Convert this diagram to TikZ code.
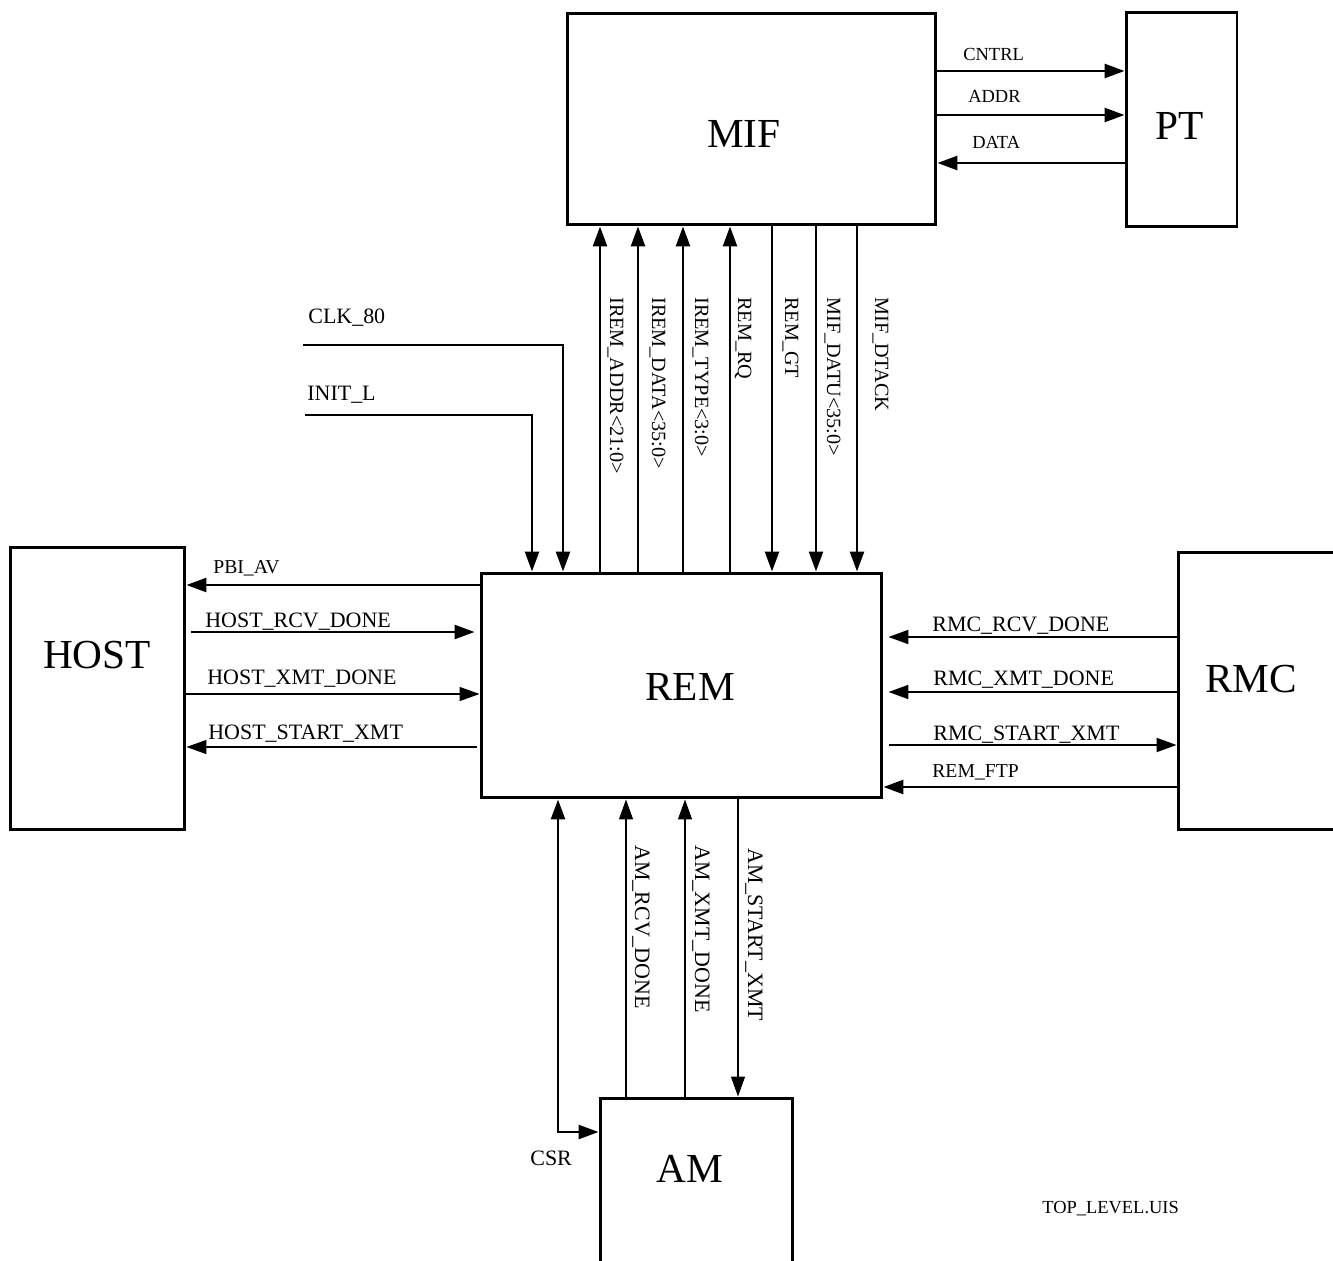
\documentclass[tikz,border=0pt]{standalone}
\usepackage{fontspec}
\setmainfont{Liberation Serif}
\usetikzlibrary{arrows.meta}
\tikzstyle{blk}=[draw, line width=1.7pt, inner sep=0]
\tikzstyle{sig}=[line width=1.5pt]
\tikzstyle{mid}=[line width=1.1pt]
\tikzstyle{thn}=[line width=0.8pt]
\tikzstyle{lab}=[font=\fontsize{12.5}{14}\selectfont, anchor=base west, inner sep=0]
\tikzstyle{sml}=[lab, font=\fontsize{10.5}{12}\selectfont]
\tikzstyle{vlab}=[lab, rotate=-90]
\tikzstyle{vsml}=[vlab, font=\fontsize{11.5}{13}\selectfont]
\tikzstyle{big}=[font=\fontsize{23.5}{27}\selectfont, anchor=base, inner sep=0]

\begin{document}
\begin{tikzpicture}[x=0.02cm, y=-0.02cm, >={Triangle[length=4mm,width=2.8mm]}]
\useasboundingbox (0,0) rectangle (1333,1261);
\clip (0,0) rectangle (1333,1261);
% blocks
\node at (751.5,119)[blk, minimum width=7.38cm, minimum height=4.24cm](mif){};
\node at (1181.5,119.5)[blk, minimum width=2.22cm, minimum height=4.3cm](pt){};
\node at (681.5,685.5)[blk, minimum width=8.02cm, minimum height=4.5cm](rem){};
\node at (97.5,688.5)[blk, minimum width=3.5cm, minimum height=5.66cm](host){};
\node at (1269,691)[blk, minimum width=3.64cm, minimum height=5.56cm](rmc){};
\node at (696.5,1199)[blk, minimum width=3.86cm, minimum height=4.04cm](am){};
\node at (744,147)[big](miftxt){MIF};
\node at (1180,139)[big](pttxt){PT};
\node at (690,700)[big](remtxt){REM};
\node at (97,668)[big](hosttxt){HOST};
\node at (1251,692)[big](rmctxt){RMC};
\node at (690,1182)[big](amtxt){AM};
% MIF - PT
\draw[sig,->] (mif.east |- 0,71) -- (pt.west |- 0,71);
\draw[sig,->] (mif.east |- 0,115) -- (pt.west |- 0,115);
\draw[sig,->] (pt.west |- 0,163) -- (mif.east |- 0,163);
\node at (963,60)[sml](cntrl){CNTRL};
\node at (968,102)[sml](addr){ADDR};
\node at (972,148)[sml](data){DATA};
% REM - MIF
\foreach \x in {600,638,683,730} \draw[sig,->] (rem.north -| \x,0) -- (mif.south -| \x,0);
\foreach \x in {772,816,857} \draw[sig,->] (mif.south -| \x,0) -- (rem.north -| \x,0);
\node at (610,297)[vsml](iaddr){IREM\_ADDR<21:0>};
\node at (652,297)[vsml](idata){IREM\_DATA<35:0>};
\node at (695,297)[vsml](itype){IREM\_TYPE<3:0>};
\node at (738,297)[vsml](rq){REM\_RQ};
\node at (785,297)[vsml](gt){REM\_GT};
\node at (827,297)[vsml](mdata){MIF\_DATU<35:0>};
\node at (875,297)[vsml](dtack){MIF\_DTACK};
% clock and init
\coordinate (clk) at (303,345);
\coordinate (init) at (305,415);
\draw[sig,->] (clk) -| (rem.north -| 563,0);
\draw[sig,->] (init) -| (rem.north -| 532,0);
\node at (308,323)[lab](clktxt){CLK\_80};
\node at (307,400)[lab](inittxt){INIT\_L};
% HOST - REM
\draw[sig,->] (rem.west |- 0,585) -- (host.east |- 0,585);
\draw[sig,->, shorten <=0.1cm, shorten >=0.1cm] (host.east |- 0,632) -- (rem.west |- 0,632);
\draw[thn,->] (host.east |- 0,694) -- (rem.west |- 0,694);
\draw[thn,->, shorten <=0.06cm] (rem.west |- 0,747) -- (host.east |- 0,747);
\node at (213,573)[lab, font=\fontsize{11.2}{13}\selectfont](pbi){PBI\_AV};
\node at (205,627)[lab](hrcv){HOST\_RCV\_DONE};
\node at (207,684)[lab](hxmt){HOST\_XMT\_DONE};
\node at (208,739)[lab](hstart){HOST\_START\_XMT};
% RMC - REM
\draw[mid,->, shorten >=0.1cm] (rmc.west |- 0,637) -- (rem.east |- 0,637);
\draw[mid,->, shorten >=0.1cm] (rmc.west |- 0,692) -- (rem.east |- 0,692);
\draw[mid,->, shorten <=0.12cm] (rem.east |- 0,745) -- (rmc.west |- 0,745);
\draw[sig,->] (rmc.west |- 0,787) -- (rem.east |- 0,787);
\node at (932,631)[lab](rrcv){RMC\_RCV\_DONE};
\node at (933,685)[lab](rxmt){RMC\_XMT\_DONE};
\node at (933,740)[lab](rstart){RMC\_START\_XMT};
\node at (932,777)[lab, font=\fontsize{11.2}{13}\selectfont](ftp){REM\_FTP};
% AM - REM
\draw[sig,<->] (rem.south -| 558,0) |- (am.west |- 0,1132);
\draw[thn,->] (am.north -| 626,0) -- (rem.south -| 626,0);
\draw[thn,->] (am.north -| 685,0) -- (rem.south -| 685,0);
\draw[thn,->] (rem.south -| 738,0) -- (am.north -| 738,0);
\node at (635,845)[vlab](arcv){AM\_RCV\_DONE};
\node at (695,845)[vlab](axmt){AM\_XMT\_DONE};
\node at (748,848)[vlab](astart){AM\_START\_XMT};
\node at (530,1165)[lab](csr){CSR};
\node at (1042,1213)[sml](fname){TOP\_LEVEL.UIS};
\end{tikzpicture}
\end{document}
